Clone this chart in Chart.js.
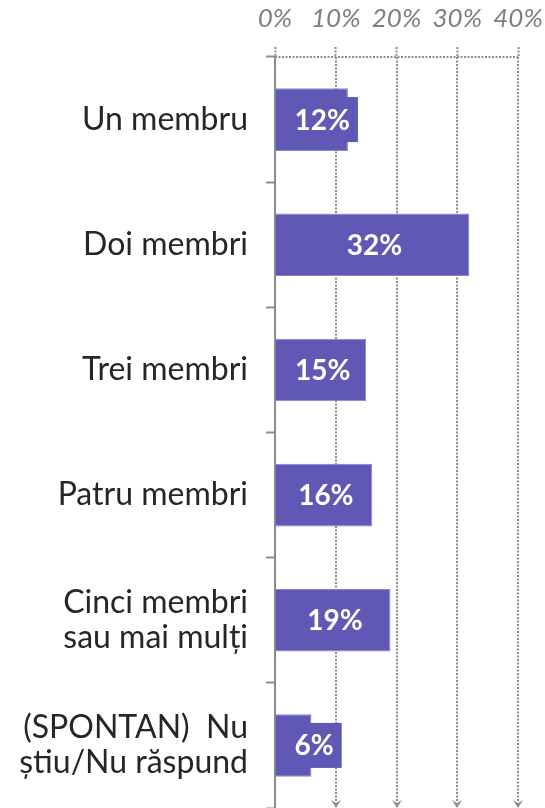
<!DOCTYPE html>
<html lang="ro">
<head>
<meta charset="UTF-8">
<title>Membri</title>
<script src="https://cdn.jsdelivr.net/npm/chart.js"></script>
<style>
    html, body { margin: 0; padding: 0; background: #fff; }
    .chart_box { position: relative; width: 545px; height: 808px; }
</style>
</head>
<body>
<div class="chart_box">
    <canvas id="membriChart"></canvas>
</div>
<script>
// categorii si procente
const categorii = [
    'Un membru',
    'Doi membri',
    'Trei membri',
    'Patru membri',
    ['Cinci membri', 'sau mai mulți'],
    ['(SPONTAN)  Nu', 'știu/Nu răspund']
];
const procente = [12, 32, 15, 16, 19, 6];
const valoriAxa = [0, 10, 20, 30, 40];

const culoareBara = '#5f59b5';
const culoareGri = '#8c8c8c';

// linii punctate verticale cu sageti jos + linia punctata de sus
const gridPunctat = {
    id: 'gridPunctat',
    beforeDatasetsDraw(chart) {
        const { ctx, chartArea, scales: { x } } = chart;
        ctx.save();
        ctx.strokeStyle = culoareGri;
        ctx.fillStyle = culoareGri;
        ctx.lineWidth = 2;
        ctx.setLineDash([2, 1.5]);
        ctx.beginPath();
        ctx.moveTo(x.getPixelForValue(0), chartArea.top);
        ctx.lineTo(x.getPixelForValue(40), chartArea.top);
        ctx.stroke();
        valoriAxa.slice(1).forEach(v => {
            const px = Math.round(x.getPixelForValue(v));
            ctx.setLineDash([2, 1.5]);
            ctx.beginPath();
            ctx.moveTo(px, chartArea.top);
            ctx.lineTo(px, chartArea.bottom - 6);
            ctx.stroke();
            // varf de sageata
            const y0 = chartArea.bottom - 8;
            ctx.setLineDash([]);
            ctx.beginPath();
            ctx.moveTo(px - 5, y0);
            ctx.lineTo(px, y0 + 3);
            ctx.lineTo(px + 5, y0);
            ctx.lineTo(px, y0 + 8);
            ctx.closePath();
            ctx.fill();
        });
        ctx.restore();
    }
};

// etichete procentuale pe bare
const eticheteBare = {
    id: 'eticheteBare',
    afterDatasetsDraw(chart) {
        const { ctx, scales: { x } } = chart;
        const meta = chart.getDatasetMeta(0);
        const ax = x.getPixelForValue(0);
        ctx.save();
        ctx.font = 'bold 28px Lato, sans-serif';
        ctx.textBaseline = 'middle';
        ctx.textAlign = 'center';
        meta.data.forEach((bar, i) => {
            const txt = procente[i] + '%';
            const w = ctx.measureText(txt).width;
            const boxW = w + 16;
            let left = (bar.base + bar.x) / 2 + 2 - boxW / 2;
            left = Math.max(left, ax + 11.5);
            const right = left + boxW;
            if (right > bar.x) {
                ctx.fillStyle = culoareBara;
                ctx.fillRect(left, bar.y - 22.5, boxW, 45);
            }
            ctx.fillStyle = '#ffffff';
            ctx.fillText(txt, left + boxW / 2, bar.y + 1);
        });
        ctx.restore();
    }
};

new Chart(document.getElementById('membriChart'), {
    type: 'bar',
    data: {
        labels: categorii,
        datasets: [{
            data: procente,
            backgroundColor: culoareBara,
            borderColor: '#8884cf',
            borderWidth: 1,
            categoryPercentage: 1,
            barPercentage: 0.5
        }]
    },
    options: {
        indexAxis: 'y',
        responsive: true,
        maintainAspectRatio: false,
        animation: false,
        layout: { padding: { left: 0, right: 27, top: 0, bottom: 0 } },
        plugins: {
            legend: { display: false },
            tooltip: { enabled: false }
        },
        scales: {
            x: {
                position: 'top',
                min: 0,
                max: 40,
                afterBuildTicks: s => { s.ticks = valoriAxa.map(v => ({ value: v })); },
                afterFit: s => { s.height = 57; s.paddingLeft = 0; s.paddingRight = 0; },
                ticks: {
                    callback: v => v + '%',
                    color: '#7f7f7f',
                    padding: 13,
                    maxRotation: 0,
                    font: { family: 'Lato, sans-serif', size: 26, style: 'italic' }
                },
                grid: {
                    drawOnChartArea: false,
                    drawTicks: true,
                    tickLength: 10,
                    tickColor: culoareGri,
                    tickWidth: 2,
                    tickBorderDash: [2, 1.5]
                },
                border: { display: false }
            },
            y: {
                afterFit: s => { s.width = 275; s.paddingTop = 0; s.paddingBottom = 0; },
                ticks: {
                    color: '#262626',
                    padding: 18,
                    font: { family: 'Lato, sans-serif', size: 32, lineHeight: 1.1 }
                },
                grid: {
                    drawOnChartArea: false,
                    drawTicks: true,
                    tickLength: 9,
                    tickColor: culoareGri,
                    tickWidth: 2
                },
                border: { display: true, color: culoareGri, width: 2 }
            }
        }
    },
    plugins: [gridPunctat, eticheteBare]
});
</script>
</body>
</html>
